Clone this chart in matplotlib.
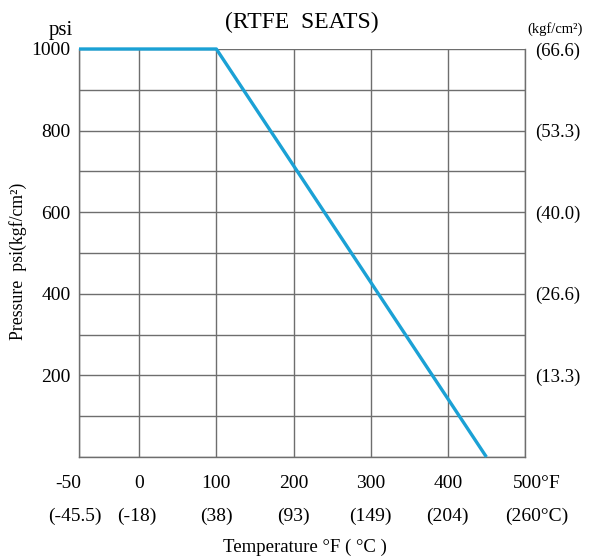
import numpy as np
import matplotlib
matplotlib.use("Agg")
import matplotlib.pyplot as plt

plt.rcParams['font.family'] = ['Liberation Serif', 'DejaVu Serif']

# pressure / temperature rating (RTFE seats)
temp_f = [-50, 100, 450]
pressure_psi = [1000, 1000, 0]

x_ticks = [-50, 0, 100, 200, 300, 400, 500]
x_labels_f = ['-50', '0', '100', '200', '300', '400', '500°F']
x_labels_c = ['(-45.5)', '(-18)', '(38)', '(93)', '(149)', '(204)', '(260°C)']
y_ticks = [200, 400, 600, 800, 1000]
y_labels_kgf = ['(13.3)', '(26.6)', '(40.0)', '(53.3)', '(66.6)']

# the -50..0 section is drawn wider than the rest
def fwd(x):
    return np.interp(x, [-50, 0, 500], [-78, 0, 500])

def inv(x):
    return np.interp(x, [-78, 0, 500], [-50, 0, 500])

fig = plt.figure(figsize=(5.9, 5.58), dpi=100)
ax = fig.add_axes([79/590, 101/558, 446/590, 408/558])
ax.set_xscale('function', functions=(fwd, inv))
ax.set_xlim(-50, 500)
ax.set_ylim(0, 1000)

ax.plot(temp_f, pressure_psi, color='#1ba1d5', lw=2.4, solid_capstyle='butt', zorder=3, clip_on=False)

# grid
ax.set_xticks(x_ticks)
ax.set_yticks(np.arange(0, 1001, 100), minor=True)
ax.set_yticks(y_ticks)
ax.grid(True, which='both', color='#6e6e6e', lw=1.0)
ax.set_axisbelow(True)
for s in ax.spines.values():
    s.set_color('#6e6e6e')
    s.set_linewidth(1.0)
ax.spines['top'].set_visible(False)
ax.tick_params(which='both', length=0)
ax.tick_params(axis='y', labelsize=14, pad=6)
ax.set_xticklabels([])

# two rows of x labels
dx_f = [-11, 0, 0, 0, 0, 0, 12]
dx_c = [-4, -2, 0, 0, 0, 0, 12]
for x, lf, lc, a, b in zip(x_ticks, x_labels_f, x_labels_c, dx_f, dx_c):
    ax.annotate(lf, xy=(x, 0), xycoords=('data', 'axes fraction'), xytext=(a, -26),
                textcoords='offset pixels', ha='center', va='center', fontsize=14)
    ax.annotate(lc, xy=(x, 0), xycoords=('data', 'axes fraction'), xytext=(b, -59),
                textcoords='offset pixels', ha='center', va='center', fontsize=14)

ax2 = ax.twinx()
ax2.set_ylim(0, 1000)
ax2.set_yticks(y_ticks)
ax2.set_yticklabels(y_labels_kgf)
ax2.tick_params(length=0, labelsize=13.5, pad=7)
for s in ax2.spines.values():
    s.set_visible(False)

fig.text(73/590, 1 - 31/558, 'psi', ha='right', va='center', fontsize=15)
fig.text(527/590, 1 - 29/558, '(kgf/cm²)', ha='left', va='center', fontsize=10.5)
fig.text(302/590, 1 - 22/558, '(RTFE  SEATS)', ha='center', va='center', fontsize=17)
fig.text(305/590, 1 - 547/558, 'Temperature °F ( °C )', ha='center', va='center', fontsize=13.5)
fig.text(18/590, 1 - 261/558, 'Pressure  psi(kgf/cm²)', ha='center', va='center',
         rotation=90, fontsize=12.8)

fig.savefig('out.png', dpi=100)
